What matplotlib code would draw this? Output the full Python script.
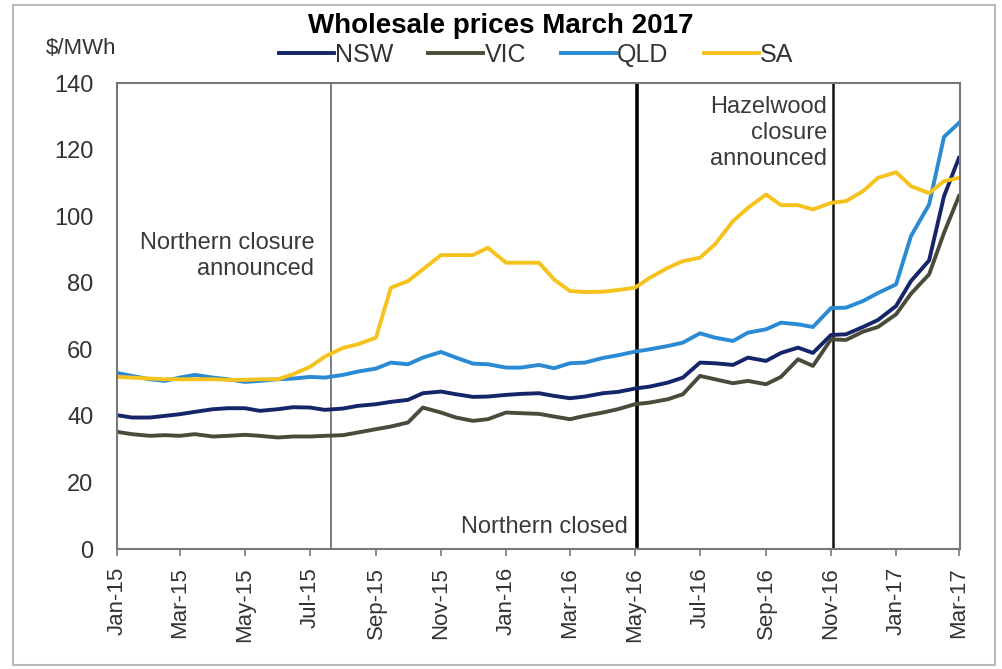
import numpy as np
import pandas as pd
import matplotlib
matplotlib.use("Agg")
import matplotlib.pyplot as plt
import matplotlib.dates as mdates
from matplotlib.patches import Rectangle

plt.rcParams['font.family'] = ['Liberation Sans', 'DejaVu Sans']

# semi-monthly readings (1st and 15th of each month), $/MWh
dates = pd.date_range("2015-01-01", "2017-03-01", freq="SMS")

nsw = [40.2, 39.5, 39.5, 40.0, 40.5, 41.2, 42.0, 42.3, 42.3, 41.5, 42.0, 42.6,
       42.5, 41.8, 42.2, 43.0, 43.5, 44.2, 44.8, 46.8, 47.3, 46.5, 45.7, 45.8,
       46.3, 46.6, 46.8, 46.0, 45.3, 45.8, 46.8, 47.2, 48.2, 48.8, 50.0, 51.5,
       56.0, 55.8, 55.3, 57.5, 56.5, 58.9, 60.5, 58.9, 64.3, 64.5, 66.7, 68.8,
       73.0, 80.5, 86.7, 106.0, 117.5]
vic = [35.2, 34.5, 34.0, 34.2, 34.0, 34.5, 33.8, 34.0, 34.3, 34.0, 33.5, 33.8,
       33.8, 34.0, 34.2, 35.0, 36.0, 36.8, 38.0, 42.5, 41.0, 39.5, 38.5, 39.0,
       41.0, 40.8, 40.6, 39.8, 39.0, 40.0, 41.0, 42.0, 43.5, 44.0, 45.0, 46.5,
       52.0, 51.0, 49.8, 50.5, 49.5, 51.7, 57.0, 55.0, 63.0, 62.8, 65.3, 66.7,
       70.5, 76.7, 82.5, 95.0, 106.0]
qld = [52.9, 52.0, 51.0, 50.5, 51.5, 52.3, 51.5, 51.0, 50.2, 50.5, 51.0, 51.2,
       51.7, 51.5, 52.3, 53.3, 54.2, 56.0, 55.5, 57.5, 59.2, 57.5, 55.7, 55.5,
       54.5, 54.5, 55.3, 54.3, 55.8, 56.0, 57.4, 58.2, 59.3, 60.0, 61.0, 62.0,
       64.8, 63.5, 62.5, 65.0, 66.0, 68.0, 67.5, 66.7, 72.4, 72.5, 74.5, 76.9,
       79.5, 94.0, 103.5, 123.8, 128.0]
sa = [51.7, 51.5, 51.2, 51.0, 51.0, 51.0, 51.0, 50.8, 50.8, 51.0, 51.0, 52.5,
      54.7, 57.8, 60.4, 61.5, 63.5, 78.5, 80.5, 84.0, 88.3, 88.3, 88.3, 90.5,
      86.0, 86.0, 86.0, 81.0, 77.5, 77.2, 77.3, 77.8, 78.5, 81.5, 84.5, 86.5,
      87.5, 91.5, 98.5, 102.5, 106.5, 103.3, 103.3, 102.0, 104.0, 104.5, 107.5, 111.5,
      113.2, 109.0, 106.9, 110.5, 111.5]

series = [("NSW", nsw, "#14256a"), ("VIC", vic, "#4b4b3b"),
          ("QLD", qld, "#2a8ad4"), ("SA", sa, "#f6c21c")]

events = [("2015-07-21", "#666666", 1.2), ("2016-05-03", "#000000", 2.6),
          ("2016-11-03", "#111111", 1.8)]

fig = plt.figure(figsize=(10.03, 6.69), dpi=100)
ax = fig.add_axes([117 / 1003, 1 - 549 / 669, 843 / 1003, 466 / 669])

for name, vals, col in series:
    ax.plot(dates, vals, color=col, lw=2.8, label=name, solid_joinstyle="round")

for d, col, lw in events:
    ax.axvline(pd.Timestamp(d), color=col, lw=lw, zorder=1)

ax.set_ylim(0, 140)
ax.set_yticks(range(0, 141, 20))
ax.set_xlim(pd.Timestamp("2015-01-01"), pd.Timestamp("2017-03-02"))
ax.xaxis.set_major_locator(mdates.MonthLocator(bymonth=[1, 3, 5, 7, 9, 11]))
ax.xaxis.set_major_formatter(mdates.DateFormatter("%b-%y"))
ax.tick_params(axis="x", rotation=90, labelsize=16, length=5, width=1.2,
               color="#777777", labelcolor="#333333", pad=8)
ax.tick_params(axis="y", length=0, labelsize=17, labelcolor="#333333", pad=17)
for sp in ax.spines.values():
    sp.set_color("#777777")
    sp.set_linewidth(1.5)

txt = dict(fontsize=17, color="#3a3a3a")
ax.text(pd.Timestamp("2015-07-05"), 88, "Northern closure\nannounced",
        ha="right", va="center", linespacing=1.25, **txt)
ax.text(pd.Timestamp("2016-04-24"), 6.5, "Northern closed", ha="right", va="center", **txt)
ax.text(pd.Timestamp("2016-10-28"), 125, "Hazelwood\nclosure\nannounced",
        ha="right", va="center", linespacing=1.25, **txt)

fig.text(501 / 1003, 1 - 26 / 669, "Wholesale prices March 2017", ha="center",
         va="center", fontsize=20, fontweight="bold")
fig.text(81 / 1003, 1 - 48 / 669, "$/MWh", ha="center", va="center",
         fontsize=16, color="#333333")
fig.legend(loc="center", bbox_to_anchor=(536 / 1003, 1 - 55 / 669), ncol=4,
           frameon=False, fontsize=18, handlelength=2.2, handletextpad=0.05,
           columnspacing=1.4, labelcolor="#333333")

fig.patches.append(Rectangle((13 / 1003, 1 - 665 / 669), 982 / 1003, 660 / 669,
                             transform=fig.transFigure, fill=False,
                             edgecolor="#bbbbbb", lw=1.5))

fig.savefig("out.png", dpi=100)
